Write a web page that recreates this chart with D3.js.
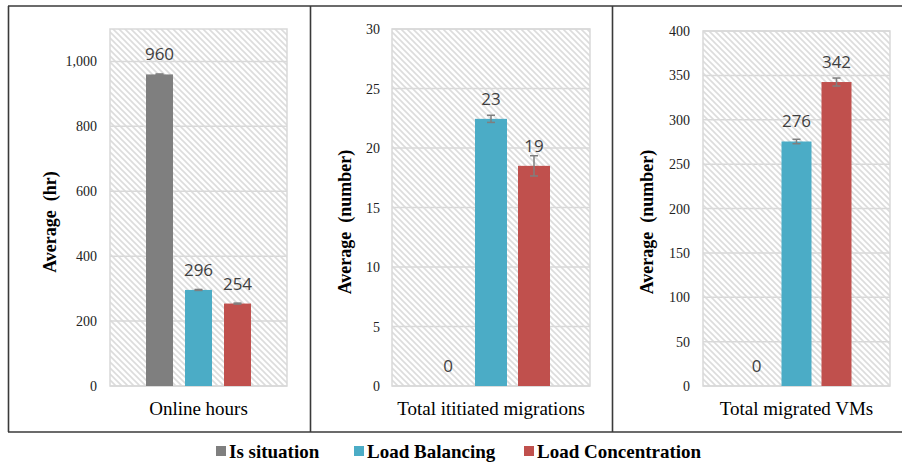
<!DOCTYPE html>
<html lang="en">
<head>
  <meta charset="UTF-8">
  <title>Average per scenario</title>
  <script src="https://d3js.org/d3.v7.min.js"></script>
  <style>
    body { margin: 0; background: #fff; }
    svg text.tick-label { font-family: "Liberation Serif", "Times New Roman", Times, "DejaVu Serif", serif; font-size: 14px; fill: #222; }
    svg text.axis-title { font-family: "Liberation Serif", "Times New Roman", Times, "DejaVu Serif", serif; font-size: 18px; font-weight: bold; fill: #000; white-space: pre; }
    svg text.cat-label { font-family: "Liberation Serif", "Times New Roman", Times, "DejaVu Serif", serif; font-size: 19px; fill: #000; }
    svg text.value-label { font-family: "Open Sans", "Noto Sans", sans-serif; font-size: 17px; fill: #404040; }
    svg text.legend-text { font-family: "Liberation Serif", "Times New Roman", Times, "DejaVu Serif", serif; font-size: 19px; font-weight: bold; fill: #000; }
  </style>
</head>
<body>
<div id="chart"></div>
<script>
// series and colours
const seriesNames = ["Is situation", "Load Balancing", "Load Concentration"];
const seriesColors = ["#7f7f7f", "#4bacc6", "#c0504d"];

// one entry per panel
const panelTitles = ["Online hours", "Total ititiated migrations", "Total migrated VMs"];
const yTitles = ["Average  (hr)", "Average  (number)", "Average  (number)"];
const yMax = [1100, 30, 400];
const yTicks = [
  [0, 200, 400, 600, 800, 1000],
  [0, 5, 10, 15, 20, 25, 30],
  [0, 50, 100, 150, 200, 250, 300, 350, 400]
];
const onlineHours = [960, 296, 254];
const onlineHoursErr = [1.5, 1.5, 1.5];
const onlineHoursLabels = ["960", "296", "254"];
const initiatedMigrations = [0, 22.45, 18.5];
const initiatedMigrationsErr = [0, 0.3, 0.85];
const initiatedMigrationsLabels = ["0", "23", "19"];
const migratedVMs = [0, 275.5, 342.5];
const migratedVMsErr = [0, 2.5, 4.5];
const migratedVMsLabels = ["0", "276", "342"];

const panelValues = [onlineHours, initiatedMigrations, migratedVMs];
const panelErrors = [onlineHoursErr, initiatedMigrationsErr, migratedVMsErr];
const panelLabels = [onlineHoursLabels, initiatedMigrationsLabels, migratedVMsLabels];

const W = 902, H = 465;
const svg = d3.select("#chart").append("svg").attr("width", W).attr("height", H);

const defs = svg.append("defs");
const pat = defs.append("pattern")
  .attr("id", "hatch")
  .attr("patternUnits", "userSpaceOnUse")
  .attr("width", 6).attr("height", 6);
pat.append("rect").attr("width", 6).attr("height", 6).attr("fill", "#fff");
pat.append("path")
  .attr("d", "M-1,-1 L7,7 M-1,5 L1,7 M5,-1 L7,1")
  .attr("stroke", "#dcdcdc").attr("stroke-width", 1.6);

// layout of each panel
const panels = [
  { plotL: 110, plotR: 287, plotTop: 29, tickX: 97, titleX: 56, outerPad: 0.343, innerPad: 0.308 },
  { plotL: 392, plotR: 590, plotTop: 29, tickX: 380, titleX: 351, outerPad: 0.339, innerPad: 0.256 },
  { plotL: 703, plotR: 890, plotTop: 31, tickX: 690, titleX: 653, outerPad: 0.35, innerPad: 0.25 }
];
const plotBottom = 386, frameTop = 6, frameBottom = 432;

panels.forEach((p, i) => {
  const g = svg.append("g");
  const plotTop = p.plotTop;
  const y = d3.scaleLinear().domain([0, yMax[i]]).range([plotBottom, plotTop]);
  const xOuter = d3.scaleBand().domain([panelTitles[i]]).range([p.plotL, p.plotR]).paddingOuter(p.outerPad);
  const x = d3.scaleBand().domain(seriesNames)
    .range([xOuter(panelTitles[i]), xOuter(panelTitles[i]) + xOuter.bandwidth()])
    .paddingInner(p.innerPad);

  // plot area background
  g.append("rect")
    .attr("x", p.plotL).attr("y", plotTop)
    .attr("width", p.plotR - p.plotL).attr("height", plotBottom - plotTop)
    .attr("fill", "url(#hatch)").attr("stroke", "#d9d9d9").attr("stroke-width", 1.5);

  // gridlines
  g.selectAll(".grid").data(yTicks[i]).enter().append("line")
    .attr("x1", p.plotL).attr("x2", p.plotR)
    .attr("y1", d => y(d)).attr("y2", d => y(d))
    .attr("stroke", "#d9d9d9").attr("stroke-width", 1.5);

  // tick labels
  const fmt = d3.format(",");
  g.selectAll(".tick-label").data(yTicks[i]).enter().append("text")
    .attr("class", "tick-label")
    .attr("x", p.tickX).attr("y", d => y(d) + 5)
    .attr("text-anchor", "end")
    .text(d => fmt(d));

  // y title
  g.append("text").attr("class", "axis-title")
    .attr("transform", `translate(${p.titleX},222) rotate(-90)`)
    .attr("text-anchor", "middle")
    .text(yTitles[i]);

  // bars
  const vals = panelValues[i], errs = panelErrors[i], labs = panelLabels[i];
  seriesNames.forEach((s, j) => {
    const bx = x(s), bw = x.bandwidth();
    if (vals[j] > 0) {
      g.append("rect")
        .attr("x", bx).attr("y", y(vals[j]))
        .attr("width", bw).attr("height", plotBottom - y(vals[j]))
        .attr("fill", seriesColors[j]);
      const cx = bx + bw / 2;
      const e = errs[j];
      const eg = g.append("g").attr("stroke", "#7f7f7f").attr("stroke-width", 1.5);
      eg.append("line").attr("x1", cx).attr("x2", cx).attr("y1", y(vals[j] + e)).attr("y2", y(vals[j] - e));
      eg.append("line").attr("x1", cx - 4).attr("x2", cx + 4).attr("y1", y(vals[j] + e)).attr("y2", y(vals[j] + e));
      eg.append("line").attr("x1", cx - 4).attr("x2", cx + 4).attr("y1", y(vals[j] - e)).attr("y2", y(vals[j] - e));
    }
    g.append("text").attr("class", "value-label")
      .attr("x", bx + bw / 2)
      .attr("y", y(vals[j]) - 14)
      .attr("text-anchor", "middle")
      .text(labs[j]);
  });

  // category label
  g.append("text").attr("class", "cat-label")
    .attr("x", (p.plotL + p.plotR) / 2).attr("y", 415)
    .attr("text-anchor", "middle")
    .text(panelTitles[i]);
});

// panel frames
const frame = svg.append("g").attr("stroke", "#3a3a3a").attr("stroke-width", 1.6).attr("fill", "none");
frame.append("line").attr("x1", 8).attr("x2", 902).attr("y1", frameTop).attr("y2", frameTop);
frame.append("line").attr("x1", 8).attr("x2", 902).attr("y1", frameBottom).attr("y2", frameBottom);
frame.append("line").attr("x1", 8.5).attr("x2", 8.5).attr("y1", frameTop).attr("y2", frameBottom);
frame.append("line").attr("x1", 310.5).attr("x2", 310.5).attr("y1", frameTop).attr("y2", frameBottom);
frame.append("line").attr("x1", 612.5).attr("x2", 612.5).attr("y1", frameTop).attr("y2", frameBottom);

// legend
const legendX = [216, 354, 524];
const legend = svg.append("g");
seriesNames.forEach((s, j) => {
  legend.append("rect").attr("x", legendX[j]).attr("y", 446).attr("width", 10).attr("height", 10).attr("fill", seriesColors[j]);
  legend.append("text").attr("class", "legend-text")
    .attr("x", legendX[j] + 13).attr("y", 458)
    .text(s);
});
</script>
</body>
</html>
